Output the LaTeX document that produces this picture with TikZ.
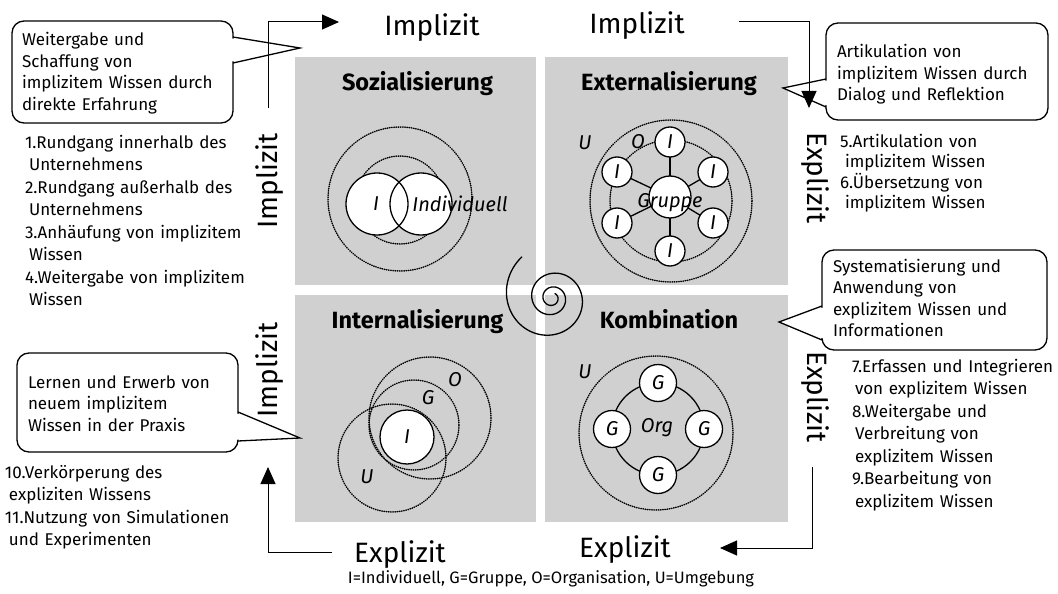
\documentclass[tikz,border=0pt]{standalone}
\usepackage{fontspec}
\setmainfont{Fira Sans}
\usetikzlibrary{arrows.meta}
\definecolor{quadgray}{RGB}{208,208,208}

\begin{document}
\begin{tikzpicture}[x=1pt,y=-1pt,
  every node/.style={inner sep=0pt, outer sep=0pt},
  quad/.style={fill=quadgray, draw=none, rectangle},
  qtitle/.style={font=\fontsize{23.5}{28}\selectfont\bfseries, anchor=base},
  axis/.style={font=\fontsize{28}{32}\selectfont, anchor=base},
  body/.style={font=\fontsize{17}{21.5}\selectfont, text width=260pt, align=left, anchor=base west},
  listA/.style={body, font=\fontsize{17}{22.5}\selectfont},
  listB/.style={body, font=\fontsize{17}{20.5}\selectfont},
  lab/.style={font=\fontsize{20}{24}\selectfont\itshape},
  bubble/.style={rectangle, draw, fill=white, line width=1.3pt, rounded corners=12pt},
  pointer/.style={line width=1.3pt, line join=miter},
  solidc/.style={circle, draw, fill=white, line width=1.3pt},
  dotc/.style={circle, draw, line width=1.5pt, line cap=round, dash pattern=on 0.5pt off 1.7pt},
  flow/.style={line width=1pt, -{Triangle[length=17pt,width=15pt]}},
  link/.style={line width=1.3pt}
]
\useasboundingbox (0,0) rectangle (1058,594);

% four quadrants
\node[quad, minimum width=241pt, minimum height=228pt] (qSoz) at (415.5,171) {};
\node[quad, minimum width=243pt, minimum height=228pt] (qExt) at (666.5,171) {};
\node[quad, minimum width=241pt, minimum height=227pt] (qInt) at (415.5,408.5) {};
\node[quad, minimum width=243pt, minimum height=227pt] (qKom) at (666.5,408.5) {};

\node[qtitle] (tSoz) at (417.5,91) {Sozialisierung};
\node[qtitle] (tExt) at (669,90) {Externalisierung};
\node[qtitle] (tInt) at (417.5,328) {Internalisierung};
\node[qtitle] (tKom) at (669,328) {Kombination};

% axis labels
\node[axis] (aTopL) at (432,36) {Implizit};
\node[axis] (aTopR) at (637,34) {Implizit};
\node[axis] (aBotL) at (400,562) {Explizit};
\node[axis] (aBotR) at (625,557) {Explizit};
\node[axis, rotate=90] (aLeftT) at (277,181) {Implizit};
\node[axis, rotate=90] (aLeftB) at (277,370) {Implizit};
\node[axis, rotate=-90] (aRightT) at (807,178) {Explizit};
\node[axis, rotate=-90] (aRightB) at (807,397) {Explizit};

% Sozialisierung: two individuals
\node[dotc, minimum size=144pt] (sozU) at (400,199) {};
\node[dotc, minimum size=88pt] (sozO) at (400,200) {};
\fill[white] (377,204) circle (31) (421,204) circle (31);
\node[circle, draw, line width=1.3pt, minimum size=62pt] (sozA) at (377,204) {};
\node[circle, draw, line width=1.3pt, minimum size=62pt] (sozB) at (421,204) {};
\node[lab] (sozAl) at (376,204) {I};
\node[lab] (sozBl) at (460,204) {Individuell};

% Externalisierung: group of individuals
\node[dotc, minimum size=162pt] (extU) at (671,201) {};
\node[dotc, minimum size=122pt] (extO) at (671,201) {};
\node[solidc, minimum size=42pt] (grp) at (670,197) {};
\foreach \n/\x/\y in {i1/670/142, i2/713/172, i3/713/223, i4/670/251, i5/617/223, i6/617/172}{
  \node[solidc, minimum size=30pt] (\n) at (\x,\y) {};
  \draw[link] (grp) -- (\n);
  \node[lab] at (\x,\y) {I};
}
\node[lab] (grpl) at (670,203) {Gruppe};
\node[lab] (extUl) at (585,143) {U};
\node[lab] (extOl) at (638,142) {O};

% Internalisierung: nested contexts
\node[dotc, minimum size=108pt] (intU) at (392,458) {};
\node[dotc, minimum size=122pt] (intO) at (430,418) {};
\node[dotc, minimum size=90pt] (intG) at (414,425) {};
\node[solidc, minimum size=54pt] (intI) at (407,437) {};
\node[lab] (intIl) at (407,437) {I};
\node[lab] (intOl) at (455,380) {O};
\node[lab] (intGl) at (428,398) {G};
\node[lab] (intUl) at (367,477) {U};

% Kombination: groups in an organisation
\node[dotc, minimum size=154pt] (komU) at (656,433) {};
\node[circle, draw, line width=1.3pt, minimum size=92pt] (org) at (658,429) {};
\foreach \n/\x/\y in {g1/658/383, g2/704/429, g3/658/475, g4/612/429}{
  \node[solidc, minimum size=37pt] (\n) at (\x,\y) {};
  \node[lab] at (\x,\y) {G};
}
\node[lab] (orgl) at (657,428) {Org};
\node[lab] (komUl) at (585,372) {U};

% spiral in the middle
\draw[line width=1.3pt] plot[smooth, samples=240, domain=234:-780, variable=\t]
  ({552+51*exp(0.002243*(\t-234))*cos(\t)}, {298+51*exp(0.002243*(\t-234))*sin(\t)});

% speech bubbles: rounded box, white gap, two pointer strokes
\node[bubble, minimum width=221pt, minimum height=102pt] (bSoz) at (122.5,72) {};
\fill[white] (231.4,38.4) -- (300,48) -- (231.4,61.6) -- cycle;
\draw[pointer] (233,37) -- (300,48) -- (233,63);

\node[bubble, minimum width=222pt, minimum height=97pt] (bExt) at (937,71.5) {};
\fill[white] (827.6,80.4) -- (783,88) -- (827.6,105.6) -- cycle;
\draw[pointer] (826,79) -- (783,88) -- (826,107);

\node[bubble, minimum width=225pt, minimum height=100pt] (bKom) at (934.5,300) {};
\fill[white] (823.6,307.4) -- (779,322) -- (823.6,338.6) -- cycle;
\draw[pointer] (822,306) -- (779,322) -- (822,340);

\node[bubble, minimum width=221pt, minimum height=99pt] (bInt) at (127.5,402.5) {};
\fill[white] (236.4,413.4) -- (300,438) -- (236.4,439.6) -- cycle;
\draw[pointer] (238,412) -- (300,438) -- (238,441);

\node[body] (cSoz) at (22,46) {Weitergabe und\\Schaffung von\\implizitem Wissen durch\\direkte Erfahrung};
\node[body] (cExt) at (837,58) {Artikulation von\\implizitem Wissen durch\\Dialog und Reflektion};
\node[body] (cKom) at (833,272) {Systematisierung und\\Anwendung von\\explizitem Wissen und\\Informationen};
\node[body] (cInt) at (28,388) {Lernen und Erwerb von\\neuem implizitem\\Wissen in der Praxis};

% numbered lists
\node[listA] (lSoz) at (25,148) {1.Rundgang innerhalb des\\\hspace*{4pt}Unternehmens\\2.Rundgang außerhalb des\\\hspace*{4pt}Unternehmens\\3.Anhäufung von implizitem\\\hspace*{4pt}Wissen\\4.Weitergabe von implizitem\\\hspace*{4pt}Wissen};
\node[listB] (lExt) at (840,147) {5.Artikulation von\\\hspace*{5pt}implizitem Wissen\\6.Übersetzung von\\\hspace*{5pt}implizitem Wissen};
\node[listA] (lKom) at (852,372) {7.Erfassen und Integrieren\\\hspace*{3pt}von explizitem Wissen\\8.Weitergabe und\\\hspace*{3pt}Verbreitung von\\\hspace*{3pt}explizitem Wissen\\9.Bearbeitung von\\\hspace*{3pt}explizitem Wissen};
\node[listA] (lInt) at (5,478) {10.Verkörperung des\\\hspace*{4pt}expliziten Wissens\\11.Nutzung von Simulationen\\\hspace*{4pt}und Experimenten};

% legend
\node[font=\fontsize{16.5}{20}\selectfont, anchor=base] (legend) at (551,583) {I=Individuell, G=Gruppe, O=Organisation, U=Umgebung};

% cycle arrows around the quadrants
\coordinate (tlS) at (268,108);
\coordinate (tlE) at (339,22);
\coordinate (trS) at (739,22);
\coordinate (trE) at (809,108);
\coordinate (brS) at (812,467);
\coordinate (brE) at (720,548);
\coordinate (blS) at (332,552);
\coordinate (blE) at (268,467);
\draw[flow] (tlS) |- (tlE);
\draw[flow] (trS) -| (trE);
\draw[flow] (brS) |- (brE);
\draw[flow] (blS) -| (blE);
\end{tikzpicture}
\end{document}
